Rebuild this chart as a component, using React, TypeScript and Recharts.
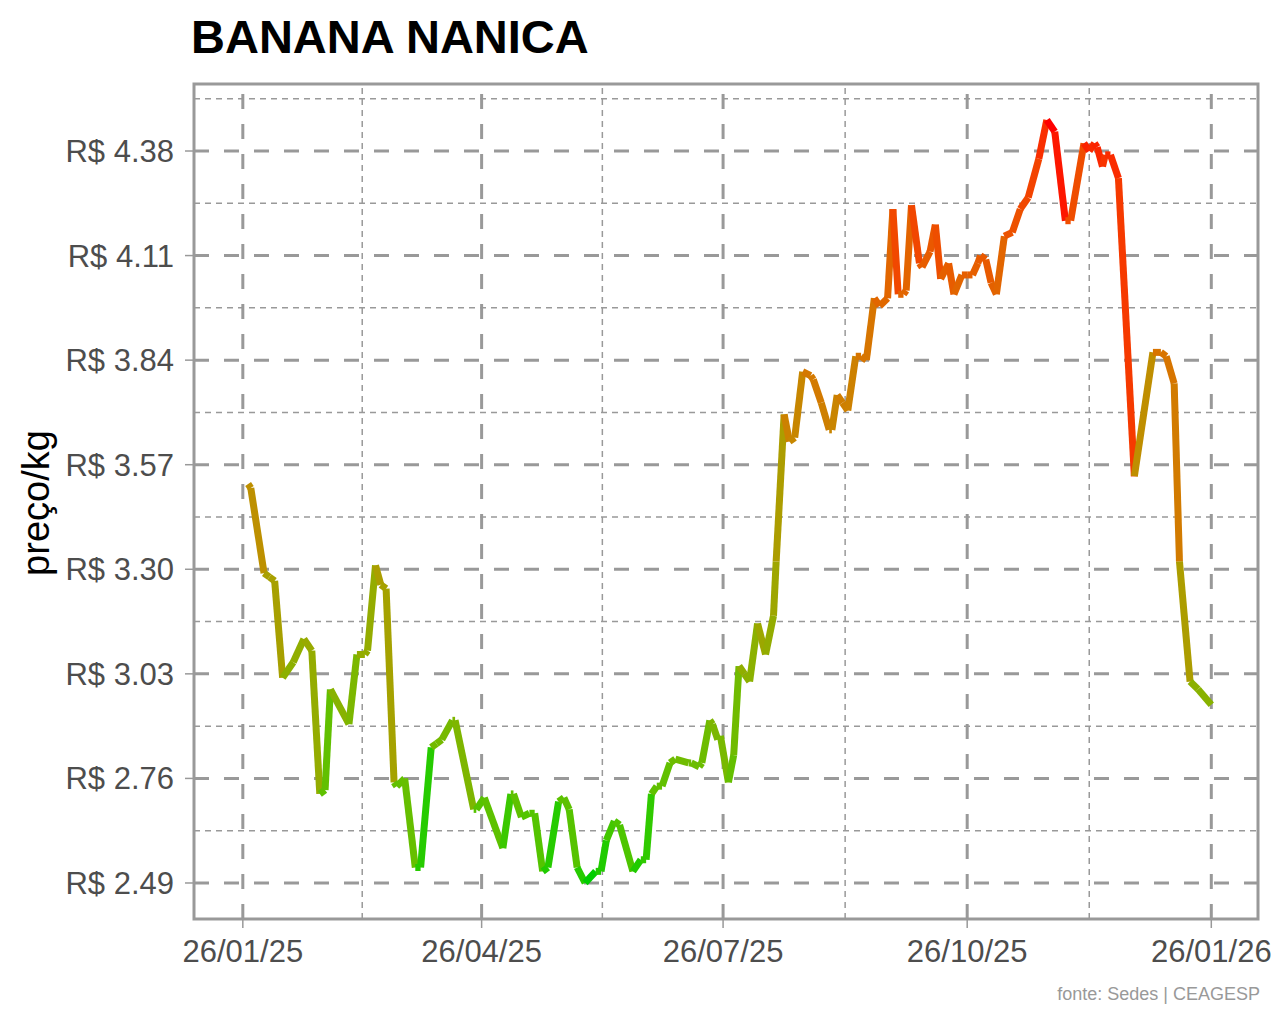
import { Line, LineChart, ReferenceArea, ReferenceLine, XAxis, YAxis } from "recharts";

// preço diário da banana nanica (CEAGESP)
const DATES = [
  "2025-01-28", "2025-01-29", "2025-02-03", "2025-02-05", "2025-02-07", "2025-02-10",
  "2025-02-14", "2025-02-18", "2025-02-21", "2025-02-24", "2025-02-26", "2025-02-28",
  "2025-03-07", "2025-03-10", "2025-03-13", "2025-03-14", "2025-03-17", "2025-03-19",
  "2025-03-21", "2025-03-24", "2025-03-25", "2025-03-28", "2025-04-01", "2025-04-03",
  "2025-04-07", "2025-04-09", "2025-04-11", "2025-04-15", "2025-04-16", "2025-04-23",
  "2025-04-24", "2025-04-27", "2025-05-04", "2025-05-07", "2025-05-08", "2025-05-11",
  "2025-05-14", "2025-05-16", "2025-05-19", "2025-05-21", "2025-05-25", "2025-05-27",
  "2025-05-29", "2025-06-01", "2025-06-04", "2025-06-08", "2025-06-10", "2025-06-12",
  "2025-06-15", "2025-06-17", "2025-06-22", "2025-06-25", "2025-06-27", "2025-06-29",
  "2025-07-01", "2025-07-03", "2025-07-06", "2025-07-08", "2025-07-13", "2025-07-14",
  "2025-07-17", "2025-07-18", "2025-07-21", "2025-07-22", "2025-07-24", "2025-07-25",
  "2025-07-28", "2025-07-30", "2025-08-01", "2025-08-03", "2025-08-05", "2025-08-08",
  "2025-08-11", "2025-08-14", "2025-08-15", "2025-08-18", "2025-08-20", "2025-08-22",
  "2025-08-25", "2025-08-28", "2025-08-29", "2025-09-01", "2025-09-04", "2025-09-05",
  "2025-09-07", "2025-09-09", "2025-09-11", "2025-09-14", "2025-09-16", "2025-09-18",
  "2025-09-21", "2025-09-23", "2025-09-26", "2025-09-28", "2025-09-30", "2025-10-02",
  "2025-10-03", "2025-10-05", "2025-10-08", "2025-10-09", "2025-10-12", "2025-10-14",
  "2025-10-16", "2025-10-19", "2025-10-21", "2025-10-24", "2025-10-26", "2025-10-28",
  "2025-10-30", "2025-10-31", "2025-11-02", "2025-11-04", "2025-11-06", "2025-11-09",
  "2025-11-12", "2025-11-15", "2025-11-18", "2025-11-22", "2025-11-25", "2025-11-28",
  "2025-12-02", "2025-12-04", "2025-12-09", "2025-12-11", "2025-12-13", "2025-12-14",
  "2025-12-16", "2025-12-17", "2025-12-19", "2025-12-22", "2025-12-28", "2026-01-04",
  "2026-01-07", "2026-01-09", "2026-01-12", "2026-01-14", "2026-01-18", "2026-01-21",
  "2026-01-26",
];

const PRICES = [
  3.52, 3.51, 3.29, 3.28, 3.27, 3.02,
  3.06, 3.12, 3.09, 2.72, 2.73, 2.99,
  2.9, 3.08, 3.08, 3.09, 3.31, 3.26,
  3.25, 2.75, 2.74, 2.76, 2.53, 2.53,
  2.84, 2.85, 2.86, 2.91, 2.91, 2.68,
  2.68, 2.71, 2.58, 2.72, 2.72, 2.66,
  2.67, 2.67, 2.52, 2.53, 2.7, 2.71,
  2.68, 2.53, 2.49, 2.52, 2.52, 2.6,
  2.65, 2.64, 2.52, 2.55, 2.55, 2.72,
  2.74, 2.74, 2.8, 2.81, 2.8, 2.8,
  2.79, 2.8, 2.91, 2.9, 2.86, 2.87,
  2.75, 2.82, 3.05, 3.03, 3.01, 3.16,
  3.08, 3.18, 3.32, 3.7, 3.63, 3.64,
  3.81, 3.8, 3.79, 3.73, 3.66, 3.66,
  3.75, 3.73, 3.71, 3.85, 3.85, 3.84,
  4.0, 3.98, 4.0, 4.23, 4.01, 4.01,
  4.02, 4.24, 4.09, 4.08, 4.12, 4.19,
  4.05, 4.09, 4.01, 4.06, 4.06, 4.06,
  4.09, 4.11, 4.1, 4.04, 4.01, 4.16,
  4.17, 4.23, 4.26, 4.36, 4.46, 4.43,
  4.2, 4.2, 4.4, 4.38, 4.4, 4.39,
  4.34, 4.37, 4.37, 4.31, 3.54, 3.86,
  3.86, 3.85, 3.78, 3.32, 3.01, 2.99,
  2.95,
];

const X_TICK_DATES = ["2025-01-26", "2025-04-26", "2025-07-26", "2025-10-26", "2026-01-26"];
const X_TICK_LABELS = ["26/01/25", "26/04/25", "26/07/25", "26/10/25", "26/01/26"];
const Y_TICKS = [2.49, 2.76, 3.03, 3.3, 3.57, 3.84, 4.11, 4.38];
const Y_MINOR = [2.625, 2.895, 3.165, 3.435, 3.705, 3.975, 4.245, 4.515];

const LOW_COLOR = "#00CD00";
const HIGH_COLOR = "#FF0000";
const GRID = "#999999";
const FONT = "'Liberation Sans', Arial, Helvetica, sans-serif";

const BASE = Date.parse("2025-01-26");
const dayOf = (iso: string) => (Date.parse(iso) - BASE) / 86400000;

const X_DOMAIN: [number, number] = [-18.4, 382.6];
const Y_DOMAIN: [number, number] = [2.397, 4.553];

// --- cor: interpolação em Lab, como scale_colour_gradient ---
function toLin(c: number) {
  c /= 255;
  return c <= 0.04045 ? c / 12.92 : Math.pow((c + 0.055) / 1.055, 2.4);
}
function fromLin(c: number) {
  const v = c <= 0.0031308 ? 12.92 * c : 1.055 * Math.pow(c, 1 / 2.4) - 0.055;
  return Math.round(Math.max(0, Math.min(1, v)) * 255);
}
function hexToLab(hex: string) {
  const r = toLin(parseInt(hex.slice(1, 3), 16));
  const g = toLin(parseInt(hex.slice(3, 5), 16));
  const b = toLin(parseInt(hex.slice(5, 7), 16));
  const X = (0.4124 * r + 0.3576 * g + 0.1805 * b) / 0.95047;
  const Y = 0.2126 * r + 0.7152 * g + 0.0722 * b;
  const Z = (0.0193 * r + 0.1192 * g + 0.9505 * b) / 1.08883;
  const f = (t: number) => (t > 0.008856 ? Math.cbrt(t) : 7.787 * t + 16 / 116);
  const fx = f(X), fy = f(Y), fz = f(Z);
  return [116 * fy - 16, 500 * (fx - fy), 200 * (fy - fz)];
}
function labToHex([L, a, bb]: number[]) {
  const fy = (L + 16) / 116;
  const fx = fy + a / 500;
  const fz = fy - bb / 200;
  const inv = (t: number) => (t ** 3 > 0.008856 ? t ** 3 : (t - 16 / 116) / 7.787);
  const X = inv(fx) * 0.95047, Y = inv(fy), Z = inv(fz) * 1.08883;
  const r = 3.2406 * X - 1.5372 * Y - 0.4986 * Z;
  const g = -0.9689 * X + 1.8758 * Y + 0.0415 * Z;
  const b = 0.0557 * X - 0.204 * Y + 1.057 * Z;
  return "#" + [r, g, b].map((c) => fromLin(c).toString(16).padStart(2, "0")).join("");
}
const LOW_LAB = hexToLab(LOW_COLOR);
const HIGH_LAB = hexToLab(HIGH_COLOR);
const MIN_P = Math.min(...PRICES);
const MAX_P = Math.max(...PRICES);
function priceColor(p: number) {
  const t = (p - MIN_P) / (MAX_P - MIN_P);
  return labToHex(LOW_LAB.map((v, k) => v + (HIGH_LAB[k] - v) * t));
}

// cada segmento recebe a cor do ponto inicial (igual ao geom_line)
const rows = DATES.map((d, i) => {
  const row: Record<string, number> = { t: dayOf(d) };
  if (i > 0) row["s" + (i - 1)] = PRICES[i];
  if (i < DATES.length - 1) row["s" + i] = PRICES[i];
  return row;
});
const segments = PRICES.slice(0, -1).map((p, i) => ({ key: "s" + i, color: priceColor(p) }));

const xTicks = X_TICK_DATES.map(dayOf);
const xMinor = xTicks.slice(0, -1).map((t, i) => (t + xTicks[i + 1]) / 2);
const xLabel = (v: number) => X_TICK_LABELS[xTicks.indexOf(v)] ?? "";

const tickStyle = { fill: "#4D4D4D", fontSize: 31, fontFamily: FONT };

export default function App() {
  return (
    <div style={{ position: "absolute", left: 0, top: 0, width: 1280, height: 1024, background: "#fff" }}>
      <LineChart width={1280} height={1024} data={rows} margin={{ top: 84, right: 22, bottom: 45, left: 0 }}>
        {Y_MINOR.map((v) => (
          <ReferenceLine key={"ym" + v} y={v} stroke={GRID} strokeWidth={1.5} strokeDasharray="6 5" />
        ))}
        {xMinor.map((v) => (
          <ReferenceLine key={"xm" + v} x={v} stroke={GRID} strokeWidth={1.5} strokeDasharray="6 5" />
        ))}
        {Y_TICKS.map((v) => (
          <ReferenceLine key={"y" + v} y={v} stroke={GRID} strokeWidth={3} strokeDasharray="15 15" />
        ))}
        {xTicks.map((v) => (
          <ReferenceLine key={"x" + v} x={v} stroke={GRID} strokeWidth={3} strokeDasharray="15 15" />
        ))}
        <XAxis
          dataKey="t"
          type="number"
          domain={X_DOMAIN}
          allowDataOverflow
          ticks={xTicks}
          tickFormatter={xLabel}
          height={60}
          axisLine={false}
          tickLine={{ stroke: GRID, strokeWidth: 1.5 }}
          tickSize={9}
          tickMargin={12}
          tick={tickStyle}
        />
        <YAxis
          type="number"
          domain={Y_DOMAIN}
          allowDataOverflow
          ticks={Y_TICKS}
          tickFormatter={(v: number) => "R$ " + v.toFixed(2)}
          width={194}
          axisLine={false}
          tickLine={{ stroke: GRID, strokeWidth: 1.5 }}
          tickSize={9}
          tickMargin={11}
          tick={tickStyle}
        />
        {segments.map((s) => (
          <Line
            key={s.key}
            dataKey={s.key}
            type="linear"
            stroke={s.color}
            strokeWidth={7}
            strokeLinecap="butt"
            dot={false}
            activeDot={false}
            connectNulls={false}
            isAnimationActive={false}
          />
        ))}
        <ReferenceArea
          x1={X_DOMAIN[0]}
          x2={X_DOMAIN[1]}
          y1={Y_DOMAIN[0]}
          y2={Y_DOMAIN[1]}
          fill="none"
          fillOpacity={0}
          stroke={GRID}
          strokeWidth={3}
        />
      </LineChart>
      <svg width={1280} height={1024} style={{ position: "absolute", left: 0, top: 0, pointerEvents: "none" }}>
        <text x={191} y={53} fontFamily={FONT} fontWeight="bold" fontSize={47} fill="#000">
          BANANA NANICA
        </text>
        <text
          x={49}
          y={503}
          transform="rotate(-90 49 503)"
          textAnchor="middle"
          fontFamily={FONT}
          fontSize={38}
          fill="#000"
        >
          preço/kg
        </text>
        <text x={1260} y={1000} textAnchor="end" fontFamily={FONT} fontSize={18} fill="#999999">
          fonte: Sedes | CEAGESP
        </text>
      </svg>
    </div>
  );
}
